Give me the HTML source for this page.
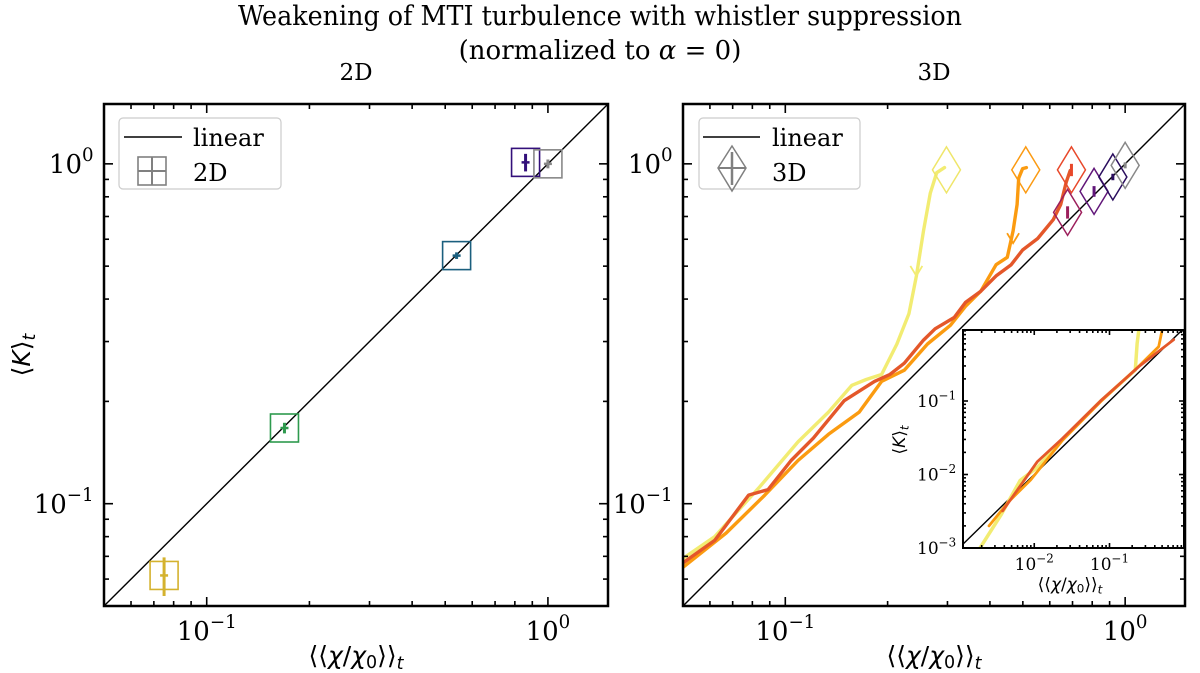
<!DOCTYPE html>
<html><head><meta charset="utf-8"><style>
html,body{margin:0;padding:0;background:#fff;}
svg{display:block;}
text{font-family:"DejaVu Serif","Liberation Serif",serif;fill:#000;}
.m{font-family:"DejaVu Sans","Liberation Sans",sans-serif;}
</style></head><body>
<svg id="fig" width="1200" height="673" viewBox="0 0 1200 673" xmlns="http://www.w3.org/2000/svg">
<text x="600" y="25" text-anchor="middle" font-size="27" textLength="724" lengthAdjust="spacingAndGlyphs">Weakening of MTI turbulence with whistler suppression</text>
<text x="600" y="59" text-anchor="middle" font-size="26">(normalized to <tspan font-style="italic">α</tspan> = 0)</text>
<text x="356" y="80" text-anchor="middle" font-size="23">2D</text>
<text x="934" y="80" text-anchor="middle" font-size="23">3D</text>
<g id="g2d"></g>
<g id="g3d"></g>
<g id="gin"></g>
</svg>
<script>
// ---- data ----
const pts2dX = [0.075, 0.169, 0.54, 0.86, 1.0];
const pts2dY = [0.0615, 0.167, 0.537, 1.01, 1.0];
const pts2dErr = [0.008, 0.006, 0.012, 0.06, 0.03];
const pts2dColors = ["#d4b22e", "#2e9a4e", "#1b5f7e", "#33107a", "#888888"];

const pts3dX = [0.298, 0.51, 0.695, 0.677, 0.81, 0.92, 1.0];
const pts3dY = [0.96, 0.96, 0.96, 0.72, 0.83, 0.915, 0.99];
const pts3dErr = [0.0, 0.0, 0.04, 0.03, 0.03, 0.02, 0.02];
const pts3dColors = ["#efe66a", "#fb9a12", "#e8482a", "#9c1f5c", "#611679", "#2a0d5e", "#888888"];

const redX = [0.050,0.062,0.078,0.089,0.104,0.121,0.149,0.183,0.203,0.224,0.255,0.276,0.314,0.339,0.376,0.417,0.462,0.499,0.553,0.614,0.646,0.671,0.689];
const redY = [0.067,0.078,0.106,0.110,0.134,0.156,0.201,0.229,0.240,0.259,0.303,0.327,0.353,0.391,0.422,0.468,0.505,0.558,0.603,0.685,0.759,0.885,0.955];
const orangeX = [0.050,0.067,0.087,0.109,0.134,0.165,0.192,0.224,0.262,0.306,0.339,0.376,0.417,0.450,0.468,0.481,0.486,0.499,0.512];
const orangeY = [0.065,0.082,0.106,0.134,0.160,0.186,0.229,0.247,0.295,0.335,0.381,0.422,0.505,0.531,0.635,0.759,0.908,0.968,0.975];
const yellowX = [0.050,0.062,0.084,0.109,0.134,0.157,0.173,0.192,0.213,0.231,0.243,0.255,0.267,0.279,0.294];
const yellowY = [0.069,0.080,0.112,0.152,0.186,0.223,0.232,0.240,0.295,0.362,0.468,0.635,0.820,0.942,0.975];

const insRedX = [0.0038,0.011,0.0236,0.0764,0.248,0.713];
const insRedY = [0.0032,0.015,0.0308,0.101,0.297,0.682];
const insOrangeX = [0.0025,0.0045,0.009,0.0236,0.0764,0.248,0.45,0.50];
const insOrangeY = [0.0020,0.0042,0.0085,0.029,0.098,0.30,0.55,0.92];
const insYellowX = [0.0019,0.0036,0.0065,0.011,0.0236,0.0764,0.22,0.233,0.245];
const insYellowY = [0.0010,0.0028,0.0083,0.0125,0.030,0.10,0.264,0.60,0.92];

// ---- helpers ----
const NS = "http://www.w3.org/2000/svg";
function mk(parent, tag, attrs){ const e=document.createElementNS(NS,tag); for(const k in attrs) e.setAttribute(k,attrs[k]); parent.appendChild(e); return e; }
function axis(x0,x1,y0,y1,lx0,lx1,ly0,ly1){
  return { X:v=>x0+(Math.log10(v)-lx0)/(lx1-lx0)*(x1-x0), Y:v=>y1-(Math.log10(v)-ly0)/(ly1-ly0)*(y1-y0), x0,x1,y0,y1,lx0,lx1,ly0,ly1 };
}
function ticks(g, a, maj, mnr, fs, showLabels, pre){
  for(let d=Math.floor(a.lx0); d<=Math.ceil(a.lx1); d++){
    for(let m=1;m<10;m++){
      const v=m*Math.pow(10,d), lv=Math.log10(v);
      if(lv<a.lx0-1e-9||lv>a.lx1+1e-9) continue;
      const L=m===1?maj:mnr, x=a.X(v);
      const t1=mk(g,"line",{x1:x,x2:x,y1:a.y1,y2:a.y1-L,stroke:"#000","stroke-width":1.6});
      
      
      mk(g,"line",{x1:x,x2:x,y1:a.y0,y2:a.y0+L,stroke:"#000","stroke-width":1.6});
      if(m===1&&showLabels){
        const t=mk(g,"text",{x:x,y:a.y1+fs*1.3,"text-anchor":"middle","font-size":fs});
        
        
        t.innerHTML='10<tspan dy="'+(-fs*0.45)+'" font-size="'+(fs*0.7)+'">'+(d<0?'−'+(-d):d)+'</tspan>';
      }
    }
  }
  for(let d=Math.floor(a.ly0); d<=Math.ceil(a.ly1); d++){
    for(let m=1;m<10;m++){
      const v=m*Math.pow(10,d), lv=Math.log10(v);
      if(lv<a.ly0-1e-9||lv>a.ly1+1e-9) continue;
      const L=m===1?maj:mnr, y=a.Y(v);
      const t1=mk(g,"line",{x1:a.x0,x2:a.x0+L,y1:y,y2:y,stroke:"#000","stroke-width":1.6});
      
      
      mk(g,"line",{x1:a.x1,x2:a.x1-L,y1:y,y2:y,stroke:"#000","stroke-width":1.6});
      if(m===1&&showLabels){
        const t=mk(g,"text",{x:a.x0-fs*0.4,y:y+fs*0.35,"text-anchor":"end","font-size":fs});
        
        
        t.innerHTML='10<tspan dy="'+(-fs*0.45)+'" font-size="'+(fs*0.7)+'">'+(d<0?'−'+(-d):d)+'</tspan>';
      }
    }
  }
}
function frame(g,a,w){
  const r=mk(g,"rect",{x:a.x0,y:a.y0,width:a.x1-a.x0,height:a.y1-a.y0,fill:"none",stroke:"#000","stroke-width":w});
  
  
}
function diag(g,a){
  const lo=Math.max(a.lx0,a.ly0), hi=Math.min(a.lx1,a.ly1);
  const l=mk(g,"line",{x1:a.X(Math.pow(10,lo)),y1:a.Y(Math.pow(10,lo)),x2:a.X(Math.pow(10,hi)),y2:a.Y(Math.pow(10,hi)),stroke:"#000","stroke-width":1.4});
  
  
}
function curve(g,a,xs,ys,col,w,name){
  let d=""; for(let i=0;i<xs.length;i++) d+=(i?"L":"M")+a.X(xs[i]).toFixed(1)+","+a.Y(ys[i]).toFixed(1);
  const p=mk(g,"path",{d:d,fill:"none",stroke:col,"stroke-width":w,"stroke-linejoin":"round","stroke-linecap":"round"});
  
  
  return p;
}
function clip(id,a){
  const defs=mk(document.getElementById('fig'),"defs",{});
  const c=mk(defs,"clipPath",{id:id});
  mk(c,"rect",{x:a.x0,y:a.y0,width:a.x1-a.x0,height:a.y1-a.y0});
}
function errbar(g,a,x,y,e,col,w){
  if(e<=0) return;
  const l=mk(g,"line",{x1:a.X(x),x2:a.X(x),y1:a.Y(y+e),y2:a.Y(Math.max(y-e,1e-6)),stroke:col,"stroke-width":w});
  
  
}
function xlab(g,x,y,fs,name){
  const t=mk(g,"text",{x:x,y:y,"text-anchor":"middle","font-size":fs,class:"m"});
  
  
  t.innerHTML='⟨⟨<tspan font-style="italic">χ</tspan>/<tspan font-style="italic">χ</tspan><tspan font-size="'+(fs*0.7)+'" dy="'+(fs*0.15)+'">0</tspan><tspan dy="'+(-fs*0.15)+'">⟩⟩</tspan><tspan font-style="italic" font-size="'+(fs*0.7)+'" dy="'+(fs*0.2)+'">t</tspan>';
}
function ylab(g,x,y,fs,name){
  const t=mk(g,"text",{x:0,y:0,"text-anchor":"middle","font-size":fs,class:"m",transform:"translate("+x+","+y+") rotate(-90)"});
  
  
  t.innerHTML='⟨<tspan font-style="italic">K</tspan>⟩<tspan font-style="italic" font-size="'+(fs*0.7)+'" dy="'+(fs*0.2)+'">t</tspan>';
}

// ---- 2D panel ----
const g2=document.getElementById('g2d');
const A2=axis(104,608,104,606,Math.log10(0.05),Math.log10(1.5),Math.log10(0.05),Math.log10(1.5));
diag(g2,A2);
for(let i=0;i<pts2dX.length;i++){
  const x=A2.X(pts2dX[i]), y=A2.Y(pts2dY[i]);
  const s=mk(g2,"rect",{x:x-14,y:y-14,width:28,height:28,fill:"none",stroke:pts2dColors[i],"stroke-width":1.6});
  
  
  errbar(g2,A2,pts2dX[i],pts2dY[i],pts2dErr[i],pts2dColors[i],3);
  const h=mk(g2,"line",{x1:x-4,x2:x+4,y1:y,y2:y,stroke:pts2dColors[i],"stroke-width":2.5});
  
  
}
ticks(g2,A2,9,5,26,true,'2d-');
frame(g2,A2,2.5);
xlab(g2,356,664,25,'x-axis-title-2d');
ylab(g2,30,355,25,'y-axis-title-2d');
// legend 2D
(function(){
  const lg=mk(g2,"g",{});
  
  
  mk(lg,"rect",{x:119,y:118,width:162,height:71,rx:4,fill:"#fff","fill-opacity":0.8,stroke:"#ccc","stroke-width":1.2});
  mk(lg,"line",{x1:124,x2:182,y1:137,y2:137,stroke:"#000","stroke-width":1.4});
  const t1=mk(lg,"text",{x:193,y:146,"font-size":24}); t1.textContent="linear";
  
  
  mk(lg,"rect",{x:138,y:157,width:28,height:28,fill:"none",stroke:"#808080","stroke-width":1.6});
  mk(lg,"line",{x1:152,x2:152,y1:157,y2:185,stroke:"#808080","stroke-width":2});
  mk(lg,"line",{x1:138,x2:166,y1:171,y2:171,stroke:"#808080","stroke-width":2});
  const t2=mk(lg,"text",{x:193,y:181,"font-size":24}); t2.textContent="2D";
  
  
})();

// ---- 3D panel ----
const g3=document.getElementById('g3d');
const A3=axis(683,1185,104,606,Math.log10(0.05),Math.log10(1.5),Math.log10(0.05),Math.log10(1.5));
clip('c3',A3);
diag(g3,A3);
const cg=mk(g3,"g",{"clip-path":"url(#c3)"});
curve(cg,A3,yellowX,yellowY,"#f2ec72",3.4,'curve-yellow');
curve(cg,A3,orangeX,orangeY,"#fb9b10",3.4,'curve-orange');
curve(cg,A3,redX,redY,"#e4572a",3.4,'curve-red');
function arrow(g,a,x,y,col){
  const px=a.X(x), py=a.Y(y);
  const p=mk(g,"path",{d:"M"+(px-6)+","+(py-10)+"L"+px+","+py+"L"+(px+6)+","+(py-10),fill:"none",stroke:col,"stroke-width":1.8});
  
  
}
arrow(g3,A3,yellowX[10],yellowY[10],"#f2ec72");
arrow(g3,A3,orangeX[14],orangeY[14]*0.92,"#fb9b10");
for(let i=0;i<pts3dX.length;i++){
  const x=A3.X(pts3dX[i]), y=A3.Y(pts3dY[i]);
  const d=mk(g3,"path",{d:"M"+x+","+(y-23)+"L"+(x+14)+","+y+"L"+x+","+(y+23)+"L"+(x-14)+","+y+"Z",fill:"none",stroke:pts3dColors[i],"stroke-width":1.5});
  
  
  errbar(g3,A3,pts3dX[i],pts3dY[i],pts3dErr[i],pts3dColors[i],3);
}
ticks(g3,A3,9,5,26,true,'3d-');
frame(g3,A3,2.5);
xlab(g3,934,664,25,'x-axis-title-3d');
// legend 3D
(function(){
  const lg=mk(g3,"g",{});
  
  
  mk(lg,"rect",{x:699,y:118,width:161,height:71,rx:4,fill:"#fff","fill-opacity":0.8,stroke:"#ccc","stroke-width":1.2});
  mk(lg,"line",{x1:703,x2:760,y1:137,y2:137,stroke:"#000","stroke-width":1.4});
  const t1=mk(lg,"text",{x:772,y:146,"font-size":24}); t1.textContent="linear";
  
  
  mk(lg,"path",{d:"M732,146L746,168L732,191L718,168Z",fill:"none",stroke:"#808080","stroke-width":1.5});
  mk(lg,"line",{x1:732,x2:732,y1:152,y2:185,stroke:"#808080","stroke-width":2.5});
  mk(lg,"line",{x1:718,x2:746,y1:168,y2:168,stroke:"#808080","stroke-width":2});
  const t2=mk(lg,"text",{x:772,y:181,"font-size":24}); t2.textContent="3D";
  
  
})();

// ---- inset ----
const gi=document.getElementById('gin');
const AI=axis(963,1184,330,548,-2.947,-0.01,-3.0,-0.034);
mk(gi,"rect",{x:AI.x0,y:AI.y0,width:AI.x1-AI.x0,height:AI.y1-AI.y0,fill:"#fff"});
clip('ci',AI);
diag(gi,AI);
const ci=mk(gi,"g",{"clip-path":"url(#ci)"});
curve(ci,AI,insYellowX,insYellowY,"#f2ec72",3.5,'inset-curve-yellow');
curve(ci,AI,insOrangeX,insOrangeY,"#fb9b10",2.8,'inset-curve-orange');
curve(ci,AI,insRedX,insRedY,"#e4572a",2.8,'inset-curve-red');
ticks(gi,AI,5,3,17,true,'inset-');
frame(gi,AI,2);
xlab(gi,1070,590,17,'inset-x-axis-title');
ylab(gi,905,440,17,'inset-y-axis-title');
</script>
</body></html>
